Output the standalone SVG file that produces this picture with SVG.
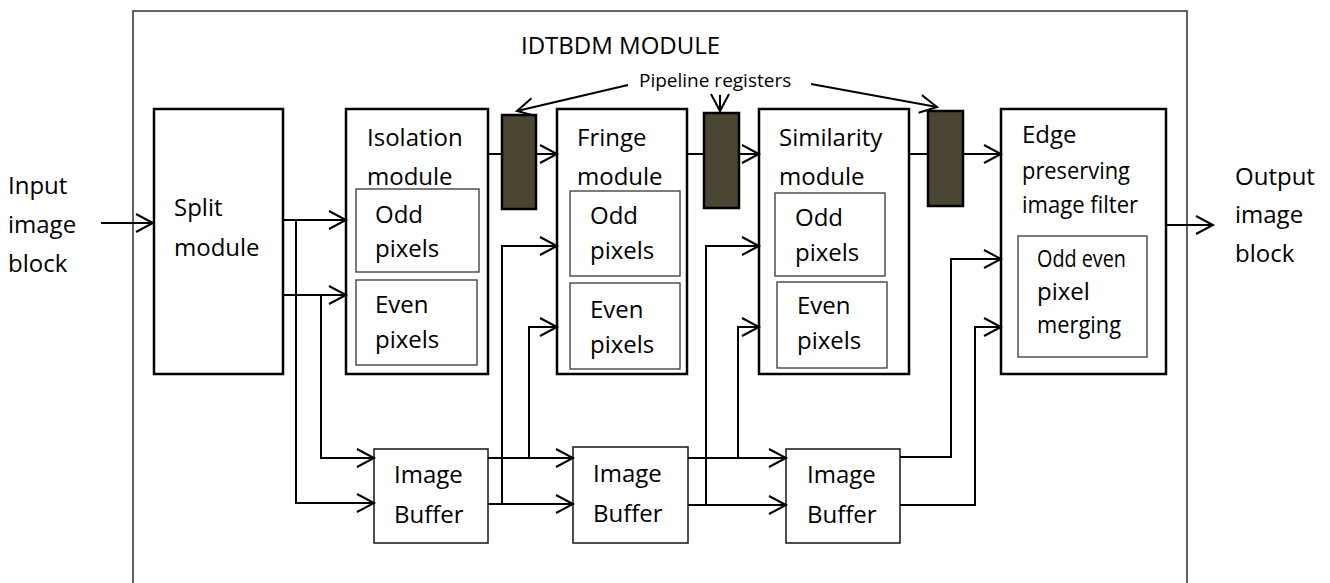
<svg xmlns="http://www.w3.org/2000/svg" width="1330" height="583" viewBox="0 0 1330 583">
<style>
text{font-family:"Open Sans","Noto Sans",sans-serif;font-size:24px;fill:#000}
.small{font-size:19px}
.box{fill:#fff;stroke:#000;stroke-width:2.5}
.inner{fill:#fff;stroke:#444;stroke-width:1.4}
.buf{fill:#fff;stroke:#222;stroke-width:1.6}
.reg{fill:#4b4631;stroke:#000;stroke-width:2.5}
.frame{fill:none;stroke:#222;stroke-width:1.4}
.wire{fill:none;stroke:#000;stroke-width:2}
</style>
<defs>
<marker id="ah" markerUnits="userSpaceOnUse" markerWidth="22" markerHeight="22" refX="17" refY="9" orient="auto" overflow="visible">
<path d="M0,0 L17,9 L0,18" fill="none" stroke="#000" stroke-width="2"/>
</marker>
</defs>
<rect width="1330" height="583" fill="#fff"/>
<g id="frame">
<rect class="frame" x="133" y="11" width="1054" height="590"/>
<text x="521" y="54">IDTBDM MODULE</text>
</g>
<g id="input-label">
<text x="8" y="194">Input</text>
<text x="8" y="233">image</text>
<text x="8" y="272">block</text>
</g>
<g id="output-label">
<text x="1235" y="185">Output</text>
<text x="1235" y="223">image</text>
<text x="1235" y="262">block</text>
</g>
<g id="split">
<rect class="box" x="154" y="109" width="129" height="265"/>
<text x="174" y="216">Split</text>
<text x="174" y="256">module</text>
</g>
<g id="isolation">
<rect class="box" x="346" y="109" width="142" height="265"/>
<text x="367" y="146">Isolation</text>
<text x="367" y="185">module</text>
<rect class="inner" x="356" y="189" width="123" height="83"/>
<text x="375" y="223">Odd</text>
<text x="375" y="257">pixels</text>
<rect class="inner" x="356" y="280" width="121" height="85"/>
<text x="375" y="313">Even</text>
<text x="375" y="348">pixels</text>
</g>
<g id="fringe">
<rect class="box" x="557" y="109" width="130" height="265"/>
<text x="577" y="146">Fringe</text>
<text x="577" y="185">module</text>
<rect class="inner" x="570" y="191" width="110" height="85"/>
<text x="590" y="224">Odd</text>
<text x="590" y="259">pixels</text>
<rect class="inner" x="570" y="283" width="110" height="86"/>
<text x="590" y="318">Even</text>
<text x="590" y="353">pixels</text>
</g>
<g id="similarity">
<rect class="box" x="759" y="109" width="150" height="265"/>
<text x="779" y="146">Similarity</text>
<text x="779" y="185">module</text>
<rect class="inner" x="775" y="193" width="110" height="83"/>
<text x="795" y="226">Odd</text>
<text x="795" y="261">pixels</text>
<rect class="inner" x="777" y="282" width="110" height="86"/>
<text x="797" y="314">Even</text>
<text x="797" y="349">pixels</text>
</g>
<g id="edge">
<rect class="box" x="1001" y="109" width="165" height="265"/>
<text x="1022" y="143">Edge</text>
<text x="1022" y="179" textLength="108" lengthAdjust="spacingAndGlyphs">preserving</text>
<text x="1022" y="213" textLength="116" lengthAdjust="spacingAndGlyphs">image filter</text>
<rect class="inner" x="1018" y="236" width="129" height="121"/>
<text x="1037" y="267" textLength="89" lengthAdjust="spacingAndGlyphs">Odd even</text>
<text x="1037" y="300">pixel</text>
<text x="1037" y="333" textLength="84" lengthAdjust="spacingAndGlyphs">merging</text>
</g>
<g id="reg1"><rect class="reg" x="502" y="115" width="34" height="94"/></g>
<g id="reg2"><rect class="reg" x="704" y="113" width="35" height="95"/></g>
<g id="reg3"><rect class="reg" x="928" y="111" width="35" height="95"/></g>
<g id="buffer1">
<rect class="buf" x="374" y="449" width="114" height="94"/>
<text x="394" y="483">Image</text>
<text x="394" y="523">Buffer</text>
</g>
<g id="buffer2">
<rect class="buf" x="573" y="447" width="115" height="96"/>
<text x="593" y="482">Image</text>
<text x="593" y="522">Buffer</text>
</g>
<g id="buffer3">
<rect class="buf" x="786" y="449" width="114" height="94"/>
<text x="807" y="483">Image</text>
<text x="807" y="523">Buffer</text>
</g>
<g id="pipeline-label">
<text class="small" x="639" y="87">Pipeline registers</text>
</g>
<g id="connectors" class="wire">
<path d="M101,223 H153" marker-end="url(#ah)"/>
<path d="M283,220 H346" marker-end="url(#ah)"/>
<path d="M283,295 H346" marker-end="url(#ah)"/>
<path d="M296,220 V503 H374" marker-end="url(#ah)"/>
<path d="M321,295 V458 H374" marker-end="url(#ah)"/>
<path d="M488,458 H573" marker-end="url(#ah)"/>
<path d="M488,504 H573" marker-end="url(#ah)"/>
<path d="M529,458 V327 H557" marker-end="url(#ah)"/>
<path d="M502,504 V246 H557" marker-end="url(#ah)"/>
<path d="M688,458 H786" marker-end="url(#ah)"/>
<path d="M688,505 H786" marker-end="url(#ah)"/>
<path d="M738,458 V327 H759" marker-end="url(#ah)"/>
<path d="M706,505 V246 H759" marker-end="url(#ah)"/>
<path d="M900,457 H951 V259 H1001" marker-end="url(#ah)"/>
<path d="M900,505 H975 V327 H1001" marker-end="url(#ah)"/>
<path d="M488,154 H502"/>
<path d="M536,154 H557" marker-end="url(#ah)"/>
<path d="M687,154 H704"/>
<path d="M739,154 H759" marker-end="url(#ah)"/>
<path d="M909,154 H928"/>
<path d="M963,154 H1001" marker-end="url(#ah)"/>
<path d="M1166,225 H1213" marker-end="url(#ah)"/>
<path d="M628,85 L517,111" marker-end="url(#ah)"/>
<path d="M720,95 V111" marker-end="url(#ah)"/>
<path d="M811,84 L937,107" marker-end="url(#ah)"/>
</g>
</svg>
